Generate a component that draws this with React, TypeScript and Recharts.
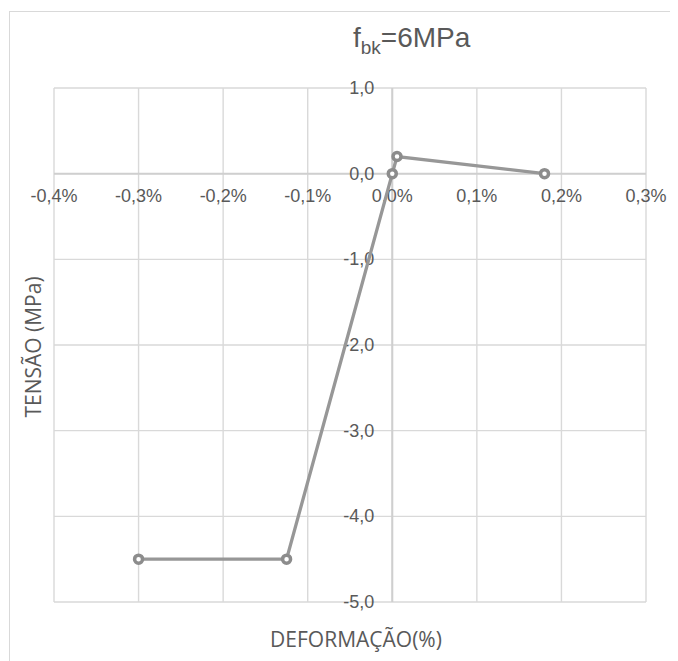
import React from "react";
import { ScatterChart, Scatter, XAxis, YAxis, CartesianGrid, ReferenceLine } from "recharts";

const xTicks = [-0.4, -0.3, -0.2, -0.1, 0, 0.1, 0.2, 0.3];
const yTicks = [-5, -4, -3, -2, -1, 0, 1];
const strain = [-0.3, -0.125, 0, 0.0056, 0.18];
const stress = [-4.5, -4.5, 0, 0.2, 0];

const curve = strain.map((x, i) => ({ x, y: stress[i] }));
const xLabelPts = xTicks.map((x) => ({ x, y: 0 }));
const yLabelPts = yTicks.map((y) => ({ x: 0, y }));

const fmt = (v: number) => (Math.abs(v) < 1e-9 ? "0,0" : v.toFixed(1).replace(".", ","));

const TXT = "#595959";
const TICK_FONT = "'Liberation Sans', Arial, sans-serif";

const XLabel = (p: any) => (
  <text x={p.cx} y={p.cy + 28} textAnchor="middle" fontFamily={TICK_FONT} fontSize={18} fill={TXT}>
    {fmt(p.payload.x) + "%"}
  </text>
);
const YLabel = (p: any) => (
  <text x={p.cx - 18} y={p.cy + 6} textAnchor="end" fontFamily={TICK_FONT} fontSize={18} fill={TXT}>
    {fmt(p.payload.y)}
  </text>
);
const Marker = (p: any) => (
  <circle cx={p.cx} cy={p.cy} r={4} fill="#ffffff" stroke="#8c8c8c" strokeWidth={3.5} />
);

export default function App() {
  return (
    <div style={{ position: "relative", width: 670, height: 653, overflow: "visible" }}>
      <div
        style={{
          position: "absolute",
          left: 1,
          top: 3,
          width: 669,
          height: 650,
          borderTop: "1.5px solid #d9d9d9",
          borderLeft: "1.5px solid #d9d9d9",
          boxSizing: "border-box",
          pointerEvents: "none",
        }}
      />
      <div
        style={{
          position: "absolute",
          left: 345,
          top: 14,
          fontFamily: TICK_FONT,
          fontSize: 28,
          color: TXT,
          whiteSpace: "nowrap",
          lineHeight: "32px",
        }}
      >
        f<sub style={{ fontSize: 19 }}>bk</sub>=6MPa
      </div>
      <div
        style={{
          position: "absolute",
          left: 25 - 100,
          top: 339 - 14,
          width: 200,
          height: 28,
          textAlign: "center",
          transform: "rotate(-90deg)",
          fontFamily: "'Open Sans', sans-serif",
          fontSize: 21,
          color: TXT,
          lineHeight: "28px",
          whiteSpace: "nowrap",
        }}
      >
        TENSÃO (MPa)
      </div>
      <div
        style={{
          position: "absolute",
          left: 348 - 150,
          top: 617,
          width: 300,
          textAlign: "center",
          fontFamily: "'Open Sans', sans-serif",
          fontSize: 21,
          color: TXT,
          lineHeight: "28px",
          whiteSpace: "nowrap",
        }}
      >
        DEFORMAÇÃO(%)
      </div>
      <ScatterChart
        width={670}
        height={653}
        margin={{ top: 80, right: 32, bottom: 59, left: 46 }}
        style={{ overflow: "visible" }}
      >
        <CartesianGrid stroke="#d9d9d9" strokeWidth={1.4} />
        <XAxis type="number" dataKey="x" domain={[-0.4, 0.3]} ticks={xTicks} hide />
        <YAxis type="number" dataKey="y" domain={[-5, 1]} ticks={yTicks} hide />
        <ReferenceLine x={0} stroke="#cfcfcf" strokeWidth={2} />
        <ReferenceLine y={0} stroke="#cfcfcf" strokeWidth={2} />
        <Scatter data={xLabelPts} shape={XLabel} isAnimationActive={false} />
        <Scatter data={yLabelPts} shape={YLabel} isAnimationActive={false} />
        <Scatter
          data={curve}
          line={{ stroke: "#979797", strokeWidth: 3.3 }}
          lineType="joint"
          shape={Marker}
          isAnimationActive={false}
        />
      </ScatterChart>
    </div>
  );
}
